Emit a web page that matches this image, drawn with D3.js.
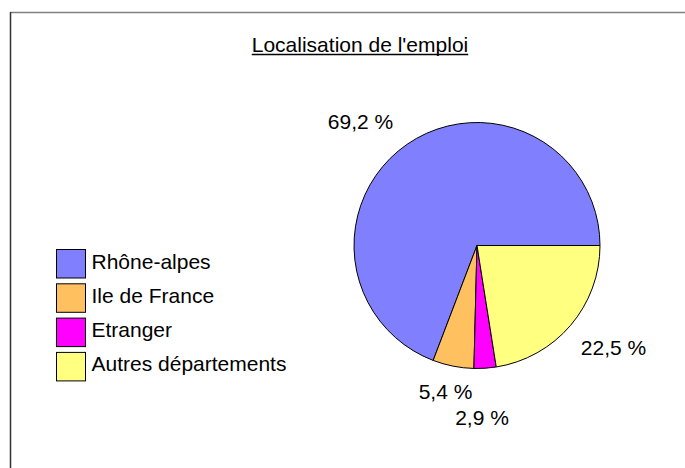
<!DOCTYPE html>
<html>
<head>
<meta charset="utf-8">
<script src="https://cdn.jsdelivr.net/npm/d3@7"></script>
<style>
  body { margin: 0; background: #fff; }
  text { font-family: "Liberation Sans", Arial, sans-serif; fill: #000; }
</style>
</head>
<body>
<svg id="chart"></svg>
<script>
var categories = ['Rhône-alpes', 'Ile de France', 'Etranger', 'Autres départements'];
var values = [69.2, 5.4, 2.9, 22.5];
var valueLabels = ['69,2 %', '5,4 %', '2,9 %', '22,5 %'];
var colors = ['#8080ff', '#ffc060', '#ff00ff', '#ffff80'];

var width = 685;
var height = 468;
var svg = d3.select('#chart').attr('width', width).attr('height', height);

// frame
svg.append('line').attr('x1', 10.5).attr('x2', width).attr('y1', 12.5).attr('y2', 12.5)
  .attr('stroke', '#808080').attr('stroke-width', 1.5);
svg.append('line').attr('x1', 10.5).attr('x2', 10.5).attr('y1', 12).attr('y2', height)
  .attr('stroke', '#333').attr('stroke-width', 1.5);

// title
var title = svg.append('text')
  .attr('x', 360).attr('y', 51.5)
  .attr('text-anchor', 'middle')
  .style('font-size', '21px')
  .text("Localisation de l'emploi");
var tw = title.node().getComputedTextLength();
svg.append('line').attr('x1', 360 - tw / 2).attr('x2', 360 + tw / 2)
  .attr('y1', 54.5).attr('y2', 54.5).attr('stroke', '#000').attr('stroke-width', 1.5);

// pie
var cx = 477, cy = 245.5, r = 123;
var pie = d3.pie().sort(null).value(function (d) { return d; })
  .startAngle(Math.PI / 2).endAngle(Math.PI / 2 - 2 * Math.PI);
var arc = d3.arc().innerRadius(0).outerRadius(r);
var g = svg.append('g').attr('transform', 'translate(' + cx + ',' + cy + ')');
var arcs = pie(values);
g.selectAll('path').data(arcs).enter().append('path')
  .attr('d', arc)
  .attr('fill', function (d, i) { return colors[i]; })
  .attr('stroke', '#000').attr('stroke-width', 1);

// value labels, placed outside the slices
var labelPos = [[360.5, 129.3], [445.5, 399], [482, 425], [613.5, 355]];
svg.selectAll('.vlabel').data(valueLabels).enter().append('text')
  .attr('class', 'vlabel')
  .attr('x', function (d, i) { return labelPos[i][0]; })
  .attr('y', function (d, i) { return labelPos[i][1]; })
  .attr('text-anchor', 'middle')
  .style('font-size', '21px')
  .text(function (d) { return d; });

// legend
var legend = svg.append('g').attr('transform', 'translate(56,249)');
var rows = legend.selectAll('g').data(categories).enter().append('g')
  .attr('transform', function (d, i) { return 'translate(0,' + (i * 34.3) + ')'; });
rows.append('rect').attr('x', 0.5).attr('y', 0.5).attr('width', 29).attr('height', 28.5)
  .attr('fill', function (d, i) { return colors[i]; })
  .attr('stroke', '#000').attr('stroke-width', 1);
rows.append('text').attr('x', 35.5).attr('y', 19.5)
  .style('font-size', '21px')
  .text(function (d) { return d; });
</script>
</body>
</html>
